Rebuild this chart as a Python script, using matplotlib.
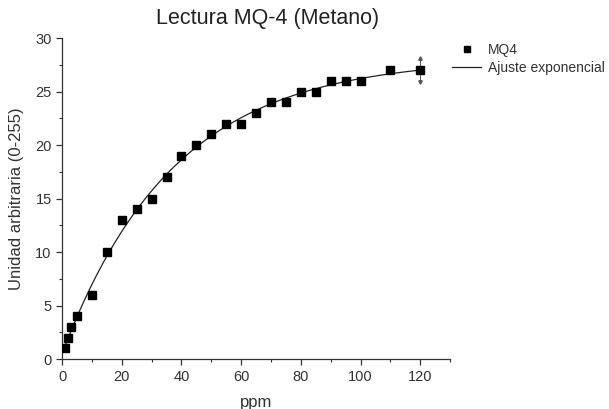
import matplotlib
matplotlib.use('Agg')
import matplotlib.pyplot as plt
import numpy as np
from matplotlib.ticker import MultipleLocator

plt.rcParams['font.family'] = ['Liberation Sans', 'DejaVu Sans']

# datos
ppm = [1, 2, 3, 5, 10, 15, 20, 25, 30, 35, 40, 45, 50, 55, 60, 65, 70, 75, 80, 85, 90, 95, 100, 110, 120]
mq4 = [1, 2, 3, 4, 6, 10, 13, 14, 15, 17, 19, 20, 21, 22, 22, 23, 24, 24, 25, 25, 26, 26, 26, 27, 27]
err_x = [120]
err_y = [27]
err_val = [1.1]

# ajuste exponencial y = A + B*exp(-x/t) a partir de los datos
x = np.array(ppm, dtype=float)
y = np.array(mq4, dtype=float)
best = None
for t in np.linspace(10, 100, 901):
    M = np.column_stack([np.ones_like(x), np.exp(-x / t)])
    coef, res, _, _ = np.linalg.lstsq(M, y, rcond=None)
    r = np.sum((M @ coef - y) ** 2)
    if best is None or r < best[0]:
        best = (r, t, coef)
_, t_fit, (A, B) = best
xf = np.linspace(0.5, 120, 300)
yf = A + B * np.exp(-xf / t_fit)

fig = plt.figure(figsize=[6.09, 4.09], dpi=100)
ax = fig.add_axes([0.102, 0.122, 0.637, 0.785])

ax.plot(xf, yf, '-', color='#222222', lw=0.9, label='Ajuste exponencial', zorder=2)
ax.plot(ppm, mq4, 's', color='black', markersize=5.5, label='MQ4', zorder=3)

# barra de error con flechas (estilo Origin)
ex = np.array(err_x); ey = np.array(err_y); ee = np.array(err_val)
ax.vlines(ex, ey - ee, ey + ee, color='#555555', lw=0.7, zorder=1)
ax.plot(ex, ey + ee, '^', color='#555555', markersize=2.5, zorder=1)
ax.plot(ex, ey - ee, 'v', color='#555555', markersize=2.5, zorder=1)

ax.set_xlim(0, 130)
ax.set_ylim(0, 30)
ax.set_xticks([0, 20, 40, 60, 80, 100, 120])
ax.xaxis.set_minor_locator(MultipleLocator(10))
ax.yaxis.set_major_locator(MultipleLocator(5))
ax.yaxis.set_minor_locator(MultipleLocator(2.5))

for s in ['top', 'right']:
    ax.spines[s].set_visible(False)
for s in ['left', 'bottom']:
    ax.spines[s].set_color('#333333')
    ax.spines[s].set_linewidth(0.9)
ax.tick_params(which='major', direction='out', length=4, width=0.9, colors='#333333',
               labelsize=10.5, labelcolor='#333333')
ax.tick_params(which='minor', direction='out', length=2.5, width=0.8, colors='#333333')

ax.set_xlabel('ppm', fontsize=12, color='#333333', labelpad=8)
ax.set_ylabel('Unidad arbitraria (0-255)', fontsize=12, color='#333333', labelpad=8)
ax.set_title('Lectura MQ-4 (Metano)', fontsize=15.5, color='#222222', pad=10, x=0.53)

h, l = ax.get_legend_handles_labels()
fig.legend(h[::-1], l[::-1], loc='upper left', bbox_to_anchor=(0.722, 0.925), frameon=False,
           fontsize=10, handlelength=2.1, handletextpad=0.5, labelspacing=0.25,
           markerscale=0.85, labelcolor='#333333')

plt.savefig('out.png')
